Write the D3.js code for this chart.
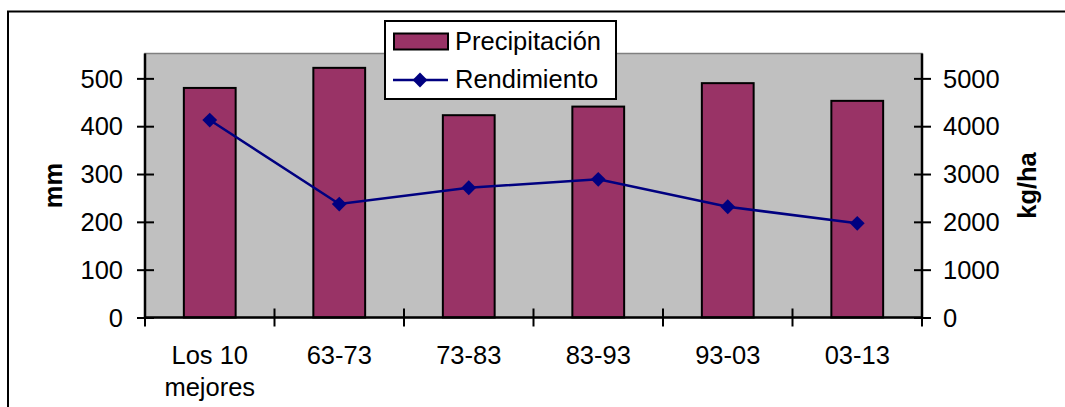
<!DOCTYPE html>
<html>
<head>
<meta charset="utf-8">
<script src="https://cdn.jsdelivr.net/npm/d3@7/dist/d3.min.js"></script>
<style>
  html, body { margin: 0; padding: 0; background: #fff; }
  svg { display: block; font-family: "Liberation Sans", Arial, sans-serif; }
</style>
</head>
<body>
<svg id="chart" width="1065" height="407"></svg>
<script>
const categories = ["Los 10\nmejores", "63-73", "73-83", "83-93", "93-03", "03-13"];
const precipitacion = [480, 522, 423, 441, 490, 453];
const rendimiento = [4128, 2372, 2713, 2889, 2316, 1969];
const leftTicks = [0, 100, 200, 300, 400, 500];
const rightTicks = [0, 1000, 2000, 3000, 4000, 5000];
const seriesNames = ["Precipitación", "Rendimiento"];
const leftTitle = "mm";
const rightTitle = "kg/ha";

const svg = d3.select("#chart");
const plot = { left: 145, right: 922, top: 53.5, bottom: 317.5 };
const fs = 25.5;

// outer chart border
svg.append("rect").attr("x", 8).attr("y", 11.5).attr("width", 1070).attr("height", 420)
  .attr("fill", "#fff").attr("stroke", "#000").attr("stroke-width", 2);

const x = d3.scaleBand().domain(categories).range([plot.left, plot.right]).padding(0);
const yL = d3.scaleLinear().domain([0, 552]).range([plot.bottom, plot.top]);
const yR = d3.scaleLinear().domain([0, 5520]).range([plot.bottom, plot.top]);

// plot area
svg.append("rect").attr("x", plot.left).attr("y", plot.top)
  .attr("width", plot.right - plot.left).attr("height", plot.bottom - plot.top)
  .attr("fill", "#c0c0c0").attr("stroke", "#808080").attr("stroke-width", 1.5);

// bars
const bw = x.bandwidth() * 0.4;
svg.append("g").selectAll("rect").data(precipitacion).join("rect")
  .attr("x", (d, i) => x(categories[i]) + (x.bandwidth() - bw) / 2)
  .attr("y", d => yL(d))
  .attr("width", bw)
  .attr("height", d => yL(0) - yL(d))
  .attr("fill", "#993366").attr("stroke", "#000").attr("stroke-width", 2);

// left axis
const gL = svg.append("g").attr("transform", `translate(${plot.left},0)`)
  .call(d3.axisLeft(yL).tickValues(leftTicks).tickFormat(d3.format("d")).tickSize(8).tickPadding(14));
gL.select(".domain").attr("stroke", "#000").attr("stroke-width", 2.5).attr("d", `M0,${plot.top}V${plot.bottom}`);
gL.selectAll(".tick line").attr("x1", 9).attr("x2", -8).attr("stroke-width", 2);
gL.selectAll(".tick text").attr("font-size", fs).attr("fill", "#000").attr("font-family", "Liberation Sans, Arial, sans-serif").attr("dy", "0.34em");

// right axis
const gR = svg.append("g").attr("transform", `translate(${plot.right},0)`)
  .call(d3.axisRight(yR).tickValues(rightTicks).tickFormat(d3.format("d")).tickSize(9).tickPadding(12));
gR.select(".domain").attr("stroke", "#000").attr("stroke-width", 2.5).attr("d", `M0,${plot.top}V${plot.bottom}`);
gR.selectAll(".tick line").attr("x1", -8).attr("x2", 9).attr("stroke-width", 2);
gR.selectAll(".tick text").attr("font-size", fs).attr("fill", "#000").attr("font-family", "Liberation Sans, Arial, sans-serif").attr("dy", "0.34em");

// bottom axis
const gB = svg.append("g").attr("transform", `translate(0,${plot.bottom})`)
  .call(d3.axisBottom(x).tickSize(0).tickPadding(0));
gB.select(".domain").attr("stroke", "#000").attr("stroke-width", 2.5).attr("d", `M${plot.left},0H${plot.right}`);
gB.selectAll(".tick text").attr("font-size", fs).attr("fill", "#000").attr("font-family", "Liberation Sans, Arial, sans-serif")
  .each(function(d) {
    const t = d3.select(this).text(null).attr("y", 0).attr("dy", null);
    d.split("\n").forEach((line, i) => {
      t.append("tspan").attr("x", 0).attr("y", 46 + i * 32).text(line);
    });
  });
const boundaries = categories.map(c => x(c)).concat([x.range()[1]]);
gB.append("g").selectAll("line").data(boundaries).join("line")
  .attr("x1", d => d).attr("x2", d => d).attr("y1", -9).attr("y2", 9)
  .attr("stroke", "#000").attr("stroke-width", 2);

// line series
const cx = (d, i) => x(categories[i]) + x.bandwidth() / 2;
svg.append("path").datum(rendimiento)
  .attr("d", d3.line().x(cx).y(d => yR(d)))
  .attr("fill", "none").attr("stroke", "#000080").attr("stroke-width", 2.5);
const diamond = d3.symbol().type(d3.symbolSquare).size(110);
svg.append("g").selectAll("path").data(rendimiento).join("path")
  .attr("d", diamond)
  .attr("transform", (d, i) => `translate(${cx(d, i)},${yR(d)}) rotate(45)`)
  .attr("fill", "#000080");

// axis titles
svg.append("text").attr("transform", `translate(${62},${(plot.top + plot.bottom) / 2}) rotate(-90)`)
  .attr("text-anchor", "middle").attr("font-size", fs).attr("font-weight", "bold").text(leftTitle);
svg.append("text").attr("transform", `translate(${1036},${(plot.top + plot.bottom) / 2}) rotate(-90)`)
  .attr("text-anchor", "middle").attr("font-size", fs).attr("font-weight", "bold").text(rightTitle);

// legend
const lg = svg.append("g");
lg.append("rect").attr("x", 385).attr("y", 21).attr("width", 231).attr("height", 78)
  .attr("fill", "#fff").attr("stroke", "#000").attr("stroke-width", 2);
lg.append("rect").attr("x", 394).attr("y", 33.5).attr("width", 54).attr("height", 16)
  .attr("fill", "#993366").attr("stroke", "#000").attr("stroke-width", 2);
lg.append("line").attr("x1", 393).attr("x2", 448).attr("y1", 80).attr("y2", 80)
  .attr("stroke", "#000080").attr("stroke-width", 2.5);
lg.append("path").attr("d", diamond).attr("transform", "translate(420,80) rotate(45)").attr("fill", "#000080");
lg.append("text").attr("x", 455).attr("y", 50).attr("font-size", fs).text(seriesNames[0]);
lg.append("text").attr("x", 455).attr("y", 88).attr("font-size", fs).text(seriesNames[1]);
</script>
</body>
</html>
